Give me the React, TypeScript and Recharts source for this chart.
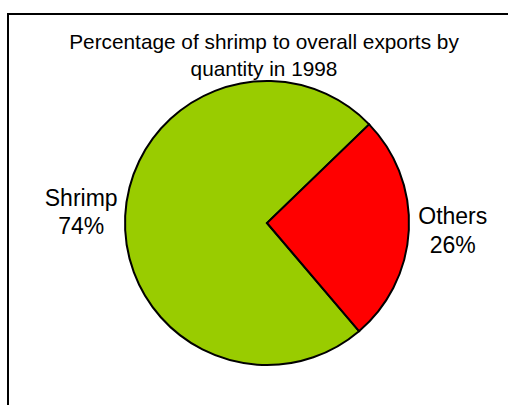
import { PieChart, Pie, Cell } from "recharts";

const CATEGORIES = ["Shrimp", "Others"];
const SHARES = [74, 26];
const COLORS = ["#99CC00", "#FF0000"];
const TITLE_LINES = ["Percentage of shrimp to overall exports by", "quantity in 1998"];

const data = CATEGORIES.map((name, i) => ({ name, value: SHARES[i] }));

const RADIAN = Math.PI / 180;

function renderLabel(props: any) {
  const { cx, cy, midAngle, outerRadius, percent, name } = props;
  const r = outerRadius + 44;
  const x = cx + r * Math.cos(-midAngle * RADIAN);
  const y = cy + r * Math.sin(-midAngle * RADIAN);
  return (
    <text
      x={x}
      y={y}
      textAnchor="middle"
      fill="#000"
      fontSize={23}
      fontFamily="'Liberation Sans', Arial, sans-serif"
    >
      <tspan x={x} y={y - 8}>{name}</tspan>
      <tspan x={x} y={y + 20.5}>{`${Math.round(percent * 100)}%`}</tspan>
    </text>
  );
}

export default function App() {
  return (
    <div style={{ position: "fixed", left: 0, top: 0, width: 508, height: 405, overflow: "hidden", background: "#fff" }}>
      <div
        style={{
          position: "absolute",
          left: 7,
          top: 13,
          width: 520,
          height: 420,
          borderTop: "2px solid #000",
          borderLeft: "2px solid #000",
        }}
      />
      <div
        style={{
          position: "absolute",
          left: 0,
          top: 28,
          width: 528,
          textAlign: "center",
          fontFamily: "'Liberation Sans', Arial, sans-serif",
          fontSize: 20.8,
          lineHeight: "27px",
          color: "#000",
        }}
      >
        {TITLE_LINES.map((t) => (
          <div key={t}>{t}</div>
        ))}
      </div>
      <div style={{ position: "absolute", left: 0, top: 0 }}>
        <PieChart width={508} height={405} margin={{ top: 0, right: 0, bottom: 0, left: 0 }}>
          <Pie
            data={data}
            dataKey="value"
            nameKey="name"
            cx={267}
            cy={223}
            outerRadius={142}
            startAngle={310.4}
            endAngle={-49.6}
            stroke="#000"
            strokeWidth={2}
            label={renderLabel}
            labelLine={false}
            isAnimationActive={false}
          >
            {data.map((_, i) => (
              <Cell key={i} fill={COLORS[i]} />
            ))}
          </Pie>
        </PieChart>
      </div>
    </div>
  );
}
